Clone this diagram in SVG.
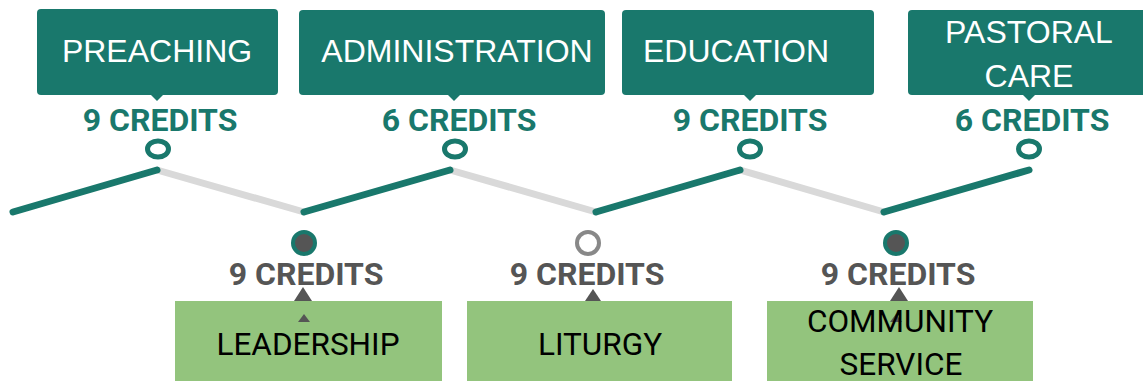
<svg xmlns="http://www.w3.org/2000/svg" width="1143" height="381" viewBox="0 0 1143 381">
<style>
.tbox{fill:#19786c}
.ttxt{font-family:"Liberation Sans",Arial,sans-serif;font-size:32px;fill:#ffffff;text-anchor:middle}
.tcred{font-family:Roboto,"Liberation Sans",sans-serif;font-weight:bold;font-size:32px;fill:#19786c;text-anchor:middle}
.bcred{font-family:Roboto,"Liberation Sans",sans-serif;font-weight:bold;font-size:32px;fill:#555555;text-anchor:middle}
.gbox{fill:#93c47d}
.btxt{font-family:Roboto,"Liberation Sans",sans-serif;font-size:31.5px;fill:#000000;text-anchor:middle}
.ring{fill:#ffffff;stroke:#19786c;stroke-width:5}
.dot{fill:#555555;stroke:#19786c;stroke-width:4}
.gring{fill:#ffffff;stroke:#888888;stroke-width:4}
.tri{fill:#555555}
.up{stroke:#19786c;stroke-width:7;stroke-linecap:round;fill:none}
.down{stroke:#d9d9d9;stroke-width:7;stroke-linecap:round;fill:none}
</style>
<rect width="1143" height="381" fill="#ffffff"/>
<g id="connectors">
<line class="down" x1="157" y1="170" x2="304" y2="212"/>
<line class="down" x1="450" y1="170" x2="596" y2="212"/>
<line class="down" x1="740" y1="170" x2="884" y2="212"/>
<line class="up" x1="13" y1="212" x2="157" y2="170"/>
<line class="up" x1="304" y1="212" x2="450" y2="170"/>
<line class="up" x1="596" y1="212" x2="740" y2="170"/>
<line class="up" x1="884" y1="212" x2="1029" y2="170"/>
</g>
<g id="preaching">
<rect class="tbox" x="37" y="9" width="241" height="86" rx="4"/>
<polygon class="tbox" points="150,94 164,94 157,101"/>
<text class="ttxt" x="157" y="62">PREACHING</text>
<text class="tcred" x="160" y="131">9 CREDITS</text>
<ellipse class="ring" cx="158" cy="149" rx="10.5" ry="8"/>
</g>
<g id="administration">
<rect class="tbox" x="299" y="10" width="306" height="85" rx="4"/>
<polygon class="tbox" points="447,94 461,94 454,101"/>
<text class="ttxt" x="457" y="62">ADMINISTRATION</text>
<text class="tcred" x="459" y="131">6 CREDITS</text>
<ellipse class="ring" cx="455" cy="149" rx="10.5" ry="8"/>
</g>
<g id="education">
<rect class="tbox" x="622" y="10" width="252" height="85" rx="4"/>
<polygon class="tbox" points="743,94 757,94 750,101"/>
<text class="ttxt" x="736" y="62">EDUCATION</text>
<text class="tcred" x="750" y="131">9 CREDITS</text>
<ellipse class="ring" cx="750" cy="149" rx="10.5" ry="8"/>
</g>
<g id="pastoral-care">
<rect class="tbox" x="908" y="10" width="240" height="85" rx="4"/>
<polygon class="tbox" points="1022,94 1036,94 1029,101"/>
<text class="ttxt" x="1029" y="43">PASTORAL</text>
<text class="ttxt" x="1029" y="87">CARE</text>
<text class="tcred" x="1032" y="131">6 CREDITS</text>
<ellipse class="ring" cx="1029" cy="149" rx="10.5" ry="8"/>
</g>
<g id="leadership">
<circle class="dot" cx="304" cy="243" r="11"/>
<text class="bcred" x="306" y="285">9 CREDITS</text>
<rect class="gbox" x="175" y="301" width="267" height="85"/>
<polygon class="tri" points="294,301 312,301 303,287"/>
<polygon class="tri" points="298,322 310,322 304,314"/>
<text class="btxt" x="308" y="355">LEADERSHIP</text>
</g>
<g id="liturgy">
<circle class="gring" cx="588" cy="243" r="11"/>
<text class="bcred" x="587" y="285">9 CREDITS</text>
<rect class="gbox" x="467" y="301" width="265" height="85"/>
<polygon class="tri" points="585,301 601,301 593,289"/>
<text class="btxt" x="600" y="355">LITURGY</text>
</g>
<g id="community-service">
<circle class="dot" cx="896" cy="243" r="11"/>
<text class="bcred" x="898" y="285">9 CREDITS</text>
<rect class="gbox" x="767" y="301" width="266" height="85"/>
<polygon class="tri" points="890,301 908,301 899,287"/>
<polygon class="tri" points="890,322 902,322 896,314"/>
<text class="btxt" x="900" y="332">COMMUNITY</text>
<text class="btxt" x="901" y="375">SERVICE</text>
</g>
</svg>
